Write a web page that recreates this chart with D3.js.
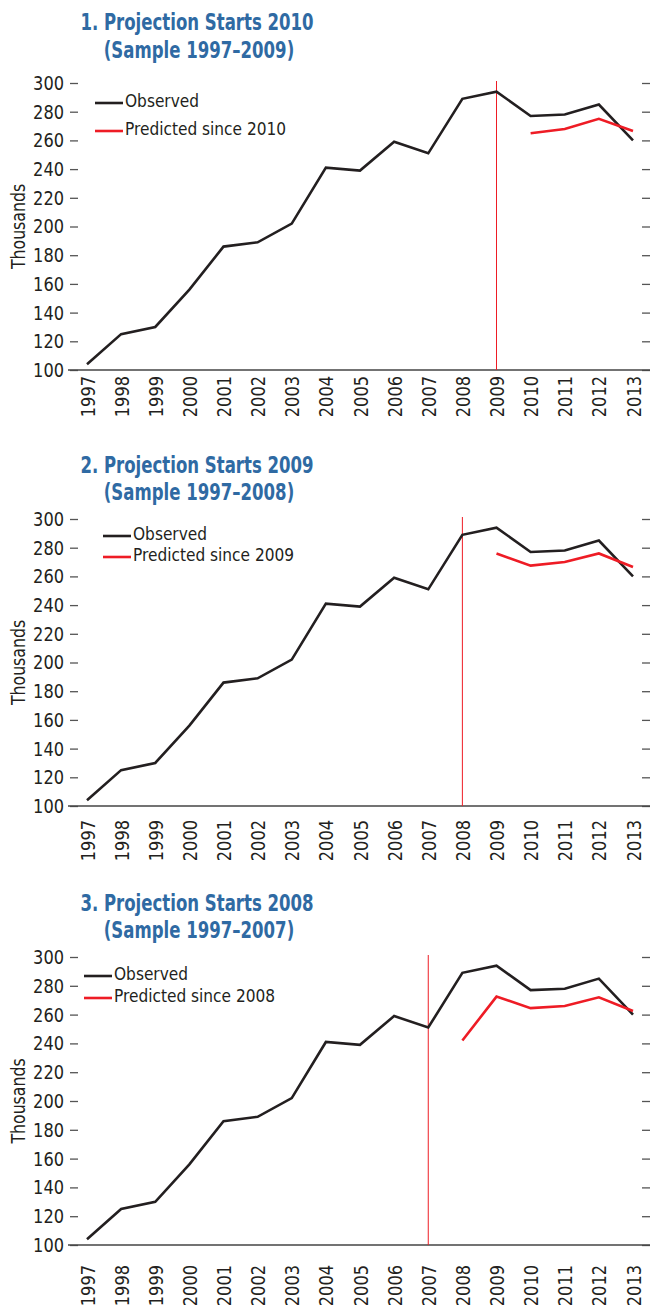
<!DOCTYPE html>
<html>
<head>
<meta charset="utf-8">
<script src="https://cdn.jsdelivr.net/npm/d3@7"></script>
<style>
  body { margin: 0; background: #fff; }
  svg text { font-family: "Liberation Sans Narrow", "Arial Narrow", "DejaVu Sans Condensed", sans-serif; font-stretch: condensed; }
</style>
</head>
<body>
<svg id="chart" width="650" height="1308"></svg>
<script>
// Data (thousands)
const years = [1997, 1998, 1999, 2000, 2001, 2002, 2003, 2004, 2005, 2006, 2007, 2008, 2009, 2010, 2011, 2012, 2013];
const observed = [104, 125, 130, 156, 186, 189, 202, 241, 239, 259, 251, 289, 294, 277, 278, 285, 260];
const yTicks = [100, 120, 140, 160, 180, 200, 220, 240, 260, 280, 300];

const pred2010Years = [2010, 2011, 2012, 2013];
const pred2010 = [265, 268, 275, 266.5];
const pred2009Years = [2009, 2010, 2011, 2012, 2013];
const pred2009 = [276, 267.5, 270, 276, 266.5];
const pred2008Years = [2008, 2009, 2010, 2011, 2012, 2013];
const pred2008 = [242, 272.5, 264.5, 266, 272, 262.5];

const panels = [
  { title: "1. Projection Starts 2010", sub: "(Sample 1997\u20132009)", start: 2010, cut: 2009,
    pYears: pred2010Years, pVals: pred2010 },
  { title: "2. Projection Starts 2009", sub: "(Sample 1997\u20132008)", start: 2009, cut: 2008,
    pYears: pred2009Years, pVals: pred2009 },
  { title: "3. Projection Starts 2008", sub: "(Sample 1997\u20132007)", start: 2008, cut: 2007,
    pYears: pred2008Years, pVals: pred2008 }
];

// layout per panel
const layout = [
  { t1: 30, t2: 58, top: 83, bottom: 370, legX: 95, legY: 103, legGap: 28, labGap: 6 },
  { t1: 473, t2: 500, top: 519, bottom: 806, legX: 103, legY: 536, legGap: 21, labGap: 14 },
  { t1: 911, t2: 938, top: 957, bottom: 1245, legX: 84, legY: 976, legGap: 22, labGap: 20 }
];

const svg = d3.select("#chart");
const blue = "#2f6aa3", black = "#231f20", red = "#ee1c25";
const left = 70, right = 650;

// squeeze text horizontally to mimic a condensed face
function condense(sel, k) {
  sel.each(function () {
    const w = this.getComputedTextLength();
    d3.select(this).attr("textLength", w * k).attr("lengthAdjust", "spacingAndGlyphs");
  });
}

const x = d3.scalePoint().domain(years).range([87, 633]);

panels.forEach((p, i) => {
  const L = layout[i];
  const y = d3.scaleLinear().domain([100, 300]).range([L.bottom, L.top]);
  const g = svg.append("g");

  // titles
  g.append("text").attr("x", 197).attr("y", L.t1).attr("text-anchor", "middle")
    .attr("font-size", 23).attr("font-weight", "bold").attr("fill", blue).text(p.title)
    .call(condense, 0.8);
  g.append("text").attr("x", 199).attr("y", L.t2).attr("text-anchor", "middle")
    .attr("font-size", 23).attr("font-weight", "bold").attr("fill", blue).text(p.sub)
    .call(condense, 0.8);

  // y axis title
  g.append("text").attr("transform", `translate(25,${(L.top + L.bottom) / 2}) rotate(-90)`)
    .attr("text-anchor", "middle").attr("font-size", 19).attr("fill", black).text("Thousands")
    .call(condense, 0.92);

  // left axis, ticks pointing inward
  const la = g.append("g").attr("transform", `translate(${left},0)`)
    .call(d3.axisLeft(y).tickValues(yTicks).tickSize(-8).tickPadding(6));
  la.select(".domain").remove();
  la.selectAll("line").attr("stroke", "#555").attr("stroke-width", 1.3);
  la.selectAll("text").attr("font-size", 20).attr("fill", black).call(condense, 0.9);

  // right axis, ticks only
  const ra = g.append("g").attr("transform", `translate(${right},0)`)
    .call(d3.axisRight(y).tickValues(yTicks).tickSize(-8).tickFormat(""));
  ra.select(".domain").remove();
  ra.selectAll("line").attr("stroke", "#555").attr("stroke-width", 1.3);

  // bottom axis
  const ba = g.append("g").attr("transform", `translate(0,${L.bottom})`)
    .call(d3.axisBottom(x).tickSize(0));
  ba.select(".domain").remove();
  ba.selectAll("text")
    .attr("transform", "rotate(-90)")
    .attr("x", -L.labGap).attr("y", 0).attr("dy", "0.35em")
    .attr("text-anchor", "end").attr("font-size", 20).attr("fill", black)
    .call(condense, 0.9);
  g.append("line").attr("x1", left - 2).attr("x2", right)
    .attr("y1", L.bottom).attr("y2", L.bottom)
    .attr("stroke", "#444").attr("stroke-width", 1.6);

  // vertical cut line
  g.append("line").attr("x1", x(p.cut)).attr("x2", x(p.cut))
    .attr("y1", L.top - 2).attr("y2", L.bottom)
    .attr("stroke", red).attr("stroke-width", 1);

  const line = d3.line().x(d => x(d[0])).y(d => y(d[1]));

  g.append("path").datum(years.map((yr, k) => [yr, observed[k]]))
    .attr("d", line).attr("fill", "none").attr("stroke", black)
    .attr("stroke-width", 2.6).attr("stroke-linejoin", "miter");

  g.append("path").datum(p.pYears.map((yr, k) => [yr, p.pVals[k]]))
    .attr("d", line).attr("fill", "none").attr("stroke", red)
    .attr("stroke-width", 2.6).attr("stroke-linejoin", "miter");

  // legend
  const leg = [
    { label: "Observed", color: black },
    { label: "Predicted since " + p.start, color: red }
  ];
  leg.forEach((d, k) => {
    const ly = L.legY + k * L.legGap;
    g.append("line").attr("x1", L.legX).attr("x2", L.legX + 28)
      .attr("y1", ly).attr("y2", ly).attr("stroke", d.color).attr("stroke-width", 2.6);
    g.append("text").attr("x", L.legX + 30).attr("y", ly).attr("dy", "0.2em")
      .attr("font-size", 18).attr("fill", black).text(d.label)
      .call(condense, 0.95);
  });
});
</script>
</body>
</html>
